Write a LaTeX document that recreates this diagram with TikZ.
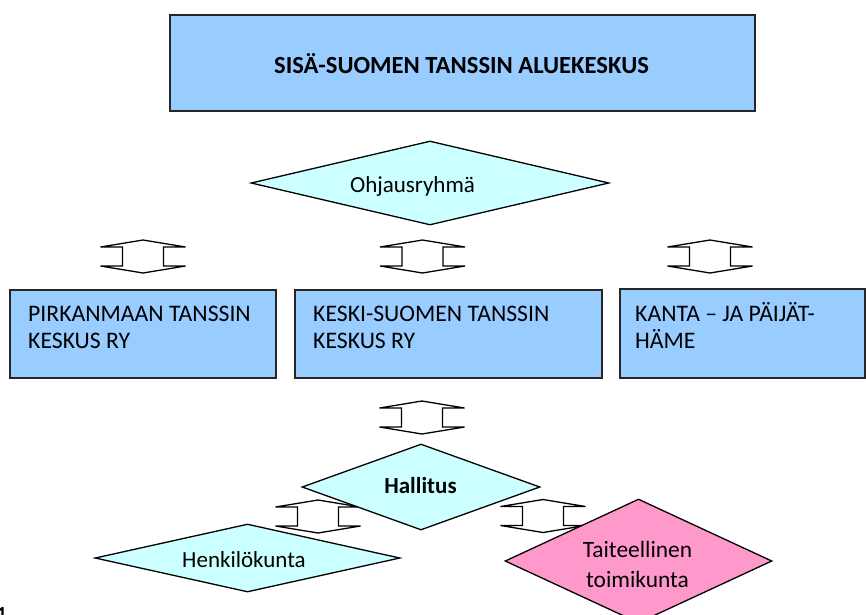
\documentclass[tikz,border=0pt]{standalone}
\usepackage{fontspec}
\setmainfont{Carlito}
\usetikzlibrary{shapes.geometric}
\definecolor{boxblue}{HTML}{99CCFF}
\definecolor{diacyan}{HTML}{CCFFFF}
\definecolor{diapink}{HTML}{FF99CC}
\tikzset{
  orgbox/.style={rectangle, draw=black!85, line width=1.5pt, fill=boxblue, inner sep=0pt},
  dia/.style={diamond, draw=black, line width=1.3pt, fill=diacyan, inner sep=0pt},
  lbl/.style={font=\fontsize{23}{27}\selectfont, inner sep=0pt},
  boxtext/.style={inner sep=0pt, font=\fontsize{23.7}{27}\selectfont, align=left, anchor=north west},
  updown/.pic={\draw[line width=1.3pt, fill=white, line join=miter]
     (0,-16.5) -- (42.5,-9.5) -- (20.5,-9.5) -- (20.5,9.5) -- (42.5,9.5) -- (0,16.5)
     -- (-42.5,9.5) -- (-20.5,9.5) -- (-20.5,-9.5) -- (-42.5,-9.5) -- cycle;}
}
\begin{document}
\begin{tikzpicture}[x=1pt,y=-1pt]
\useasboundingbox (0,0) rectangle (866,614);
% boxes
\node[orgbox, minimum width=585pt, minimum height=96pt] (top) at (462.5,63) {};
\node[lbl, font=\bfseries\fontsize{24.6}{28}\selectfont] (toptext) at (461.5,64) {SISÄ-SUOMEN TANSSIN ALUEKESKUS};
\node[orgbox, minimum width=266pt, minimum height=88pt] (pirk) at (143,334) {};
\node[orgbox, minimum width=307pt, minimum height=88pt] (keski) at (448.5,334) {};
\node[orgbox, minimum width=245pt, minimum height=89pt] (kanta) at (742.5,333.5) {};
\node[boxtext] (pirktext) at (28,301) {\rule{0pt}{20pt}PIRKANMAAN TANSSIN\\KESKUS RY};
\node[boxtext] (keskitext) at (313,301) {\rule{0pt}{20pt}KESKI-SUOMEN TANSSIN\\KESKUS RY};
\node[boxtext] (kantatext) at (635,301) {\rule{0pt}{20pt}KANTA – JA PÄIJÄT-\\HÄME};
% double arrows
\pic (ar1) at (143,256.5) {updown};
\pic (ar2) at (422.5,256.5) {updown};
\pic (ar3) at (710,256.5) {updown};
\pic (ar4) at (422,417.5) {updown};
\pic (ar5) at (318,516.5) {updown};
\pic (ar6) at (543,516) {updown};
% diamonds
\node[dia, minimum width=358pt, minimum height=84pt] (ohj) at (430,183) {};
\node[lbl, anchor=base] (ohjtext) at (412.5,192) {Ohjausryhmä};
\node[dia, minimum width=238pt, minimum height=86pt] (hall) at (421,487) {};
\node[lbl, anchor=base, font=\bfseries\fontsize{23}{27}\selectfont] (halltext) at (420.5,493) {Hallitus};
\node[dia, minimum width=305pt, minimum height=68pt] (henk) at (247.5,558) {};
\node[lbl, anchor=base] (henktext) at (244,567.5) {Henkilökunta};
\node[dia, fill=diapink, minimum width=267pt, minimum height=124pt] (tait) at (638.5,561) {};
\node[lbl, font=\fontsize{23.4}{29.6}\selectfont, align=center, anchor=north] (taittext) at (637.5,537.7) {\rule{0pt}{20pt}Taiteellinen\\toimikunta};
% page number fragment
\node[anchor=base east, inner sep=0pt, font=\bfseries\fontsize{20}{24}\selectfont] (pagenum) at (7,620) {1};
\end{tikzpicture}
\end{document}
